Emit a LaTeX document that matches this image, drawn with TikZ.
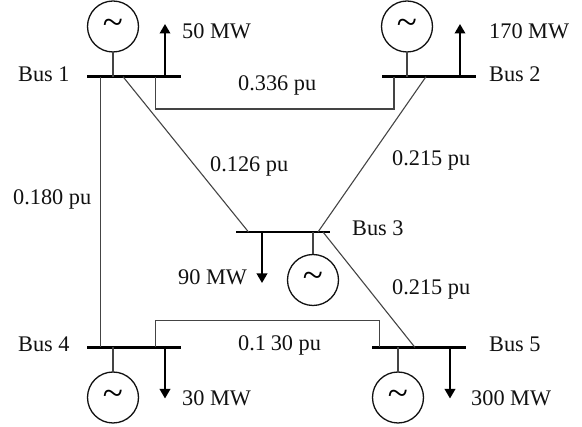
\documentclass[tikz,border=0pt]{standalone}
\usepackage{fontspec}
\setmainfont{Liberation Serif}
\usetikzlibrary{arrows.meta}
\definecolor{ink}{HTML}{111111}
\definecolor{wire}{HTML}{444444}
\tikzset{
  x=1pt,y=-1pt,
  busbar/.style={draw=none,fill=black,minimum height=2.8pt,minimum width=94pt,inner sep=0pt,outer sep=0pt},
  gen/.style={circle,draw=ink,line width=1.3pt,minimum size=51pt,inner sep=0pt,outer sep=0pt,font=\fontsize{37}{37}\selectfont},
  stem/.style={draw=wire,line width=1.7pt},
  wireline/.style={draw=wire,line width=1.1pt},
  load/.style={draw=black,line width=1.9pt,-{Triangle[length=9.5pt,width=10.5pt]}},
  lab/.style={anchor=base west,inner sep=0pt,text=ink,font=\fontsize{22.3}{24}\selectfont},
}
\begin{document}
\begin{tikzpicture}
\useasboundingbox (0,0) rectangle (582,427);
% buses
\node[busbar] (b1) at (134,76.7) {};
\node[busbar] (b2) at (428.5,76.7) {};
\node[busbar] (b3) at (283,232) {};
\node[busbar] (b4) at (134,347.5) {};
\node[busbar] (b5) at (419,347.5) {};
% generators
\node[gen] (g1) at (113,26.5) {\textasciitilde};
\node[gen] (g2) at (407,26.5) {\textasciitilde};
\node[gen] (g3) at (313,280) {\textasciitilde};
\node[gen] (g4) at (113,397.5) {\textasciitilde};
\node[gen] (g5) at (398,397.5) {\textasciitilde};
\draw[stem] (g1.south) -- (b1.center -| g1.south);
\draw[stem] (g2.south) -- (b2.center -| g2.south);
\draw[stem] (g3.north) -- (b3.center -| g3.north);
\draw[stem] (g4.north) -- (b4.center -| g4.north);
\draw[stem] (g5.north) -- (b5.center -| g5.north);
% load ends
\coordinate (l1) at (165,24);
\coordinate (l2) at (460,24);
\coordinate (l3) at (262,283);
\coordinate (l4) at (165,398.5);
\coordinate (l5) at (450,398.5);
\draw[load] (b1.center -| l1) -- (l1);
\draw[load] (b2.center -| l2) -- (l2);
\draw[load] (b3.center -| l3) -- (l3);
\draw[load] (b4.center -| l4) -- (l4);
\draw[load] (b5.center -| l5) -- (l5);
% line taps
\coordinate (t12a) at (155.5,76.7);
\coordinate (t12b) at (394,76.7);
\coordinate (t14a) at (100.5,76.7);
\coordinate (t14b) at (100.5,347.5);
\coordinate (t13a) at (123,76.7);
\coordinate (t13b) at (248.5,232);
\coordinate (t23a) at (426,76.7);
\coordinate (t23b) at (318,232);
\coordinate (t35a) at (323,232);
\coordinate (t35b) at (415,347.5);
\coordinate (t45a) at (155.5,347.5);
\coordinate (t45b) at (379.5,347.5);
\draw[wireline] (t12a) |- (275,109) -| (t12b);
\draw[wireline] (t14a) -- (t14b);
\draw[wireline] (t13a) -- (t13b);
\draw[wireline] (t23a) -- (t23b);
\draw[wireline] (t35a) -- (t35b);
\draw[wireline] (t45a) |- (270,320.5) -| (t45b);
% labels
\node[lab] (n1) at (18,82) {Bus 1};
\node[lab] (n2) at (489,82) {Bus 2};
\node[lab] (n3) at (352,236) {Bus 3};
\node[lab] (n4) at (18,352) {Bus 4};
\node[lab] (n5) at (489,352) {Bus 5};
\node[lab] (p1) at (182,39) {50 MW};
\node[lab] (p2) at (489,39) {170 MW};
\node[lab] (p3) at (178,285) {90 MW};
\node[lab] (p4) at (182,406) {30 MW};
\node[lab] (p5) at (471,406) {300 MW};
\node[lab] (x12) at (238,90.7) {0.336 pu};
\node[lab] (x13) at (210,172) {0.126 pu};
\node[lab] (x14) at (13,205) {0.180 pu};
\node[lab] (x23) at (392,166) {0.215 pu};
\node[lab] (x35) at (392,295) {0.215 pu};
\node[lab] (x45) at (238,351) {0.1\kern1pt\,30 pu};
\end{tikzpicture}
\end{document}
